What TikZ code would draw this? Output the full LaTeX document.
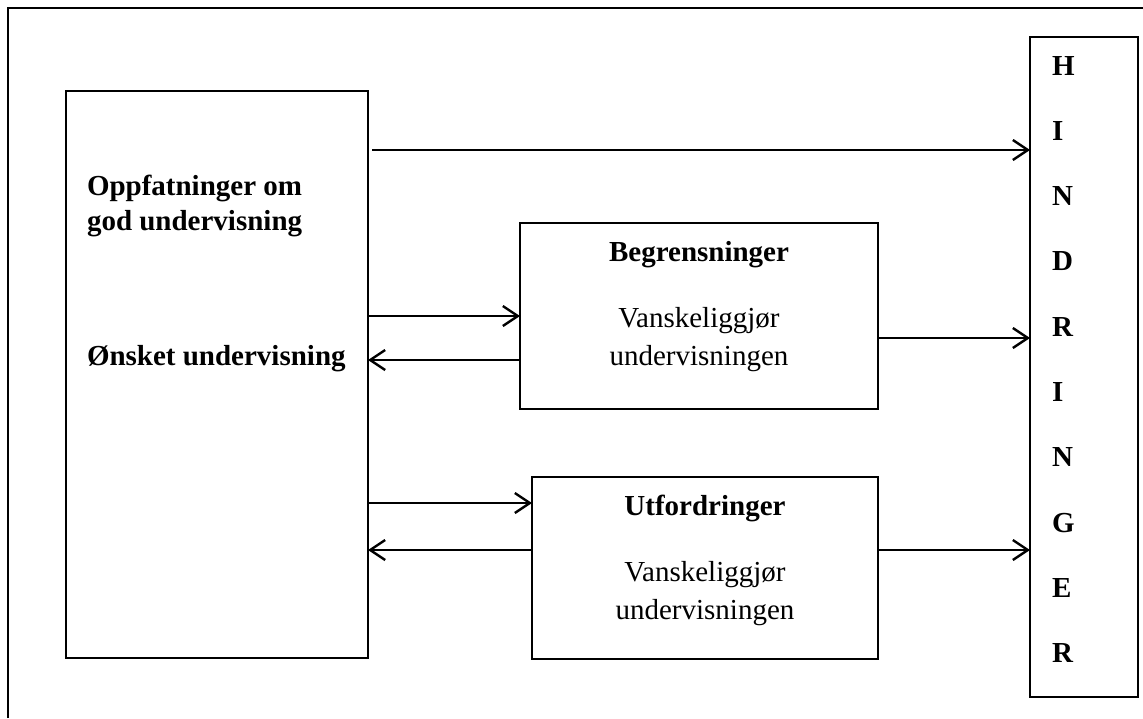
\documentclass[tikz,border=0pt]{standalone}
\usepackage{fontspec}
\setmainfont{Liberation Serif}
\usetikzlibrary{arrows.meta}
\tikzset{
  box/.style={draw, line width=1.6pt, rectangle, inner sep=0pt, outer sep=0pt},
  arr/.style={line width=2.4pt, -{Straight Barb[length=15pt, width=20pt, line width=2.4pt]}},
  txt/.style={inner sep=0pt, outer sep=0pt, font=\fontsize{29}{34}\selectfont},
  bold/.style={txt, font=\fontsize{29}{34}\selectfont\bfseries},
}
\begin{document}
\begin{tikzpicture}[x=1pt, y=-1pt]
\useasboundingbox (0,0) rectangle (1143,718);
% outer frame (top and left edges inside the page)
\draw[line width=2.4pt] (8,718) -- (8,8) -- (1143,8);

% boxes
\node[box, minimum width=302pt, minimum height=567pt] (lbox) at (217,374.5) {};
\node[box, minimum width=108pt, minimum height=660pt] (hbox) at (1084,367) {};
\node[box, minimum width=358pt, minimum height=186pt] (bbox) at (699,316) {};
\node[box, minimum width=346pt, minimum height=182pt] (ubox) at (705,568) {};

% left box texts
\node[bold, anchor=base west] (t1) at (87,195) {Oppfatninger om};
\node[bold, anchor=base west] (t2) at (87,230) {god undervisning};
\node[bold, anchor=base west] (t3) at (87,365) {Ønsket undervisning};

% middle box texts
\node[bold, anchor=base] (b1) at (699,261) {Begrensninger};
\node[txt, anchor=base] (b2) at (699,327) {Vanskeliggjør};
\node[txt, anchor=base] (b3) at (699,365) {undervisningen};
\node[bold, anchor=base] (u1) at (705,515) {Utfordringer};
\node[txt, anchor=base] (u2) at (705,581) {Vanskeliggjør};
\node[txt, anchor=base] (u3) at (705,619) {undervisningen};

% vertical word in the right box
\foreach \ch [count=\i from 0] in {H,I,N,D,R,I,N,G,E,R}
  \node[bold, anchor=base west] (h\i) at (1052,75+65.3*\i) {\ch};

% connectors
\coordinate (topstart) at (372,150);
\draw[arr] (topstart) -- (hbox.west |- topstart);
\draw[arr] (lbox.east |- 0,316) -- (bbox.west |- 0,316);
\draw[arr] (bbox.west |- 0,360) -- (lbox.east |- 0,360);
\draw[arr] (bbox.east |- 0,338) -- (hbox.west |- 0,338);
\draw[arr] (lbox.east |- 0,503) -- (ubox.west |- 0,503);
\draw[arr] (ubox.west |- 0,550) -- (lbox.east |- 0,550);
\draw[arr] (ubox.east |- 0,550) -- (hbox.west |- 0,550);
\end{tikzpicture}
\end{document}
